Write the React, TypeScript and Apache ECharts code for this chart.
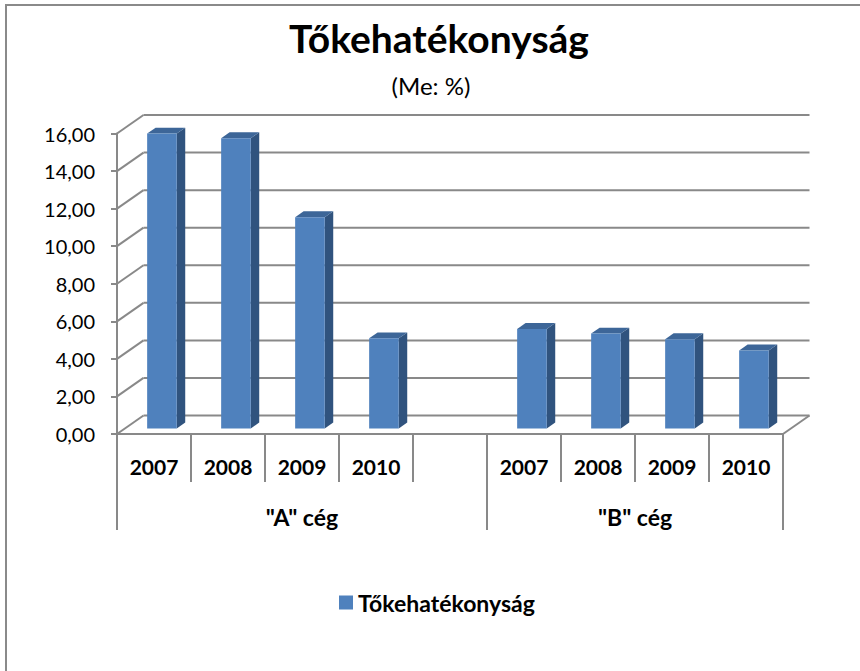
import React, { useEffect, useRef } from 'react';
import * as echarts from 'echarts';

// ---- data ----
const titleText = 'Tőkehatékonyság';
const subtitleText = '(Me: %)';
const seriesName = 'Tőkehatékonyság';
const groups = ['"A" cég', '"B" cég'];
const years = ['2007', '2008', '2009', '2010'];
const valuesA = [15.7, 15.45, 11.25, 4.8];
const valuesB = [5.3, 5.05, 4.75, 4.15];
const yTicks = [0, 2, 4, 6, 8, 10, 12, 14, 16];

// categories: A years, an empty slot, B years
const categories = [...years, '', ...years];
const barValues: (number | null)[] = [...valuesA, null, ...valuesB];
const groupBounds = [0, years.length + 1, categories.length];
const groupCenters = [
  (groupBounds[0] + groupBounds[1]) / 2,
  (groupBounds[1] + groupBounds[2]) / 2,
];

// ---- style ----
const FONT = 'Lato, "Open Sans", "DejaVu Sans", sans-serif';
const GRID_COLOR = '#898989';
const FRONT = '#4F81BD';
const SIDE = '#30537E';
const TOP = '#3D6698';
const DX = 26.5; // wall depth (x)
const DY = -18.5; // wall depth (y)
const F = 0.3; // bar front depth fraction
const BD = 0.32; // bar depth fraction
const BAR_W = 0.4; // fraction of slot

const fmt = (v: number) => v.toFixed(2).replace('.', ',');

export default function App() {
  const ref = useRef<HTMLDivElement>(null);

  useEffect(() => {
    if (!ref.current) return;
    const chart = echarts.init(ref.current, null, { renderer: 'svg' });
    const lineStyle = { stroke: GRID_COLOR, lineWidth: 2, fill: 'none' };

    const option: any = {
      animation: false,
      backgroundColor: '#fff',
      graphic: [
        {
          type: 'rect',
          z: 0,
          shape: { x: 6, y: 5, width: 900, height: 700 },
          style: { fill: 'none', stroke: '#8a8a8a', lineWidth: 2 },
        },
        {
          type: 'text',
          x: 439,
          y: 38,
          style: {
            text: titleText,
            font: `bold 39px ${FONT}`,
            fill: '#000',
            textAlign: 'center',
            align: 'center',
            textVerticalAlign: 'middle',
            verticalAlign: 'middle',
          },
        },
        {
          type: 'text',
          x: 431,
          y: 85,
          style: {
            text: subtitleText,
            font: `normal 24px ${FONT}`,
            fill: '#000',
            textAlign: 'center',
            align: 'center',
            textVerticalAlign: 'middle',
            verticalAlign: 'middle',
          },
        },
      ],
      legend: {
        data: [seriesName],
        left: 334,
        top: 586,
        icon: 'rect',
        itemWidth: 14,
        itemHeight: 14,
        textStyle: { fontFamily: FONT, fontWeight: 'bold', fontSize: 23, color: '#000' },
      },
      grid: {
        left: 117,
        top: 133.5,
        width: 666,
        height: 300.5,
        outerBoundsMode: 'none',
        containLabel: false,
      },
      xAxis: [
        {
          type: 'category',
          data: categories,
          gridIndex: 0,
          axisLine: { show: true, lineStyle: { color: GRID_COLOR, width: 2 } },
          axisTick: { show: true, interval: 0, length: 48, lineStyle: { color: GRID_COLOR, width: 2 } },
          axisLabel: {
            interval: 0,
            margin: 22,
            fontFamily: FONT,
            fontWeight: 'bold',
            fontSize: 21,
            lineHeight: 21,
            color: '#000',
          },
          splitLine: { show: false },
        },
        {
          type: 'value',
          gridIndex: 0,
          min: 0,
          max: categories.length,
          position: 'bottom',
          offset: 48,
          axisLine: { show: false },
          axisTick: {
            show: true,
            length: 48,
            customValues: groupBounds,
            lineStyle: { color: GRID_COLOR, width: 2 },
          },
          axisLabel: {
            show: true,
            margin: 23,
            customValues: groupCenters,
            formatter: (v: number) => {
              const idx = groupCenters.findIndex((c) => Math.abs(c - v) < 1e-6);
              return idx >= 0 ? groups[idx] : '';
            },
            fontFamily: FONT,
            fontWeight: 'bold',
            fontSize: 23,
            lineHeight: 23,
            color: '#000',
          },
          splitLine: { show: false },
        },
      ],
      yAxis: {
        type: 'value',
        min: 0,
        max: 16,
        interval: 2,
        axisLine: { show: true, lineStyle: { color: GRID_COLOR, width: 2 } },
        axisTick: { show: true, length: 6, lineStyle: { color: GRID_COLOR, width: 2 } },
        axisLabel: {
          margin: 22,
          formatter: fmt,
          fontFamily: FONT,
          fontSize: 20,
          color: '#000',
        },
        splitLine: { show: false },
      },
      series: [
        {
          type: 'custom',
          name: 'walls',
          silent: true,
          xAxisIndex: 0,
          yAxisIndex: 0,
          data: yTicks.map((v) => [0, v]),
          encode: { x: 0, y: 1 },
          renderItem: (params: any, api: any) => {
            const cs = params.coordSys;
            const v = api.value(1);
            const y = api.coord([0, v])[1];
            const x0 = cs.x;
            const x1 = cs.x + cs.width;
            const children: any[] = [
              { type: 'line', shape: { x1: x0, y1: y, x2: x0 + DX, y2: y + DY }, style: lineStyle },
              { type: 'line', shape: { x1: x0 + DX, y1: y + DY, x2: x1 + DX, y2: y + DY }, style: lineStyle },
            ];
            if (v === 0) {
              children.push({
                type: 'line',
                shape: { x1: x1, y1: y, x2: x1 + DX, y2: y + DY },
                style: lineStyle,
              });
            }
            return { type: 'group', children };
          },
        },
        {
          type: 'custom',
          name: seriesName,
          xAxisIndex: 0,
          yAxisIndex: 0,
          itemStyle: { color: FRONT },
          data: barValues
            .map((v, i) => [i, v])
            .filter((d) => d[1] !== null),
          encode: { x: 0, y: 1 },
          renderItem: (params: any, api: any) => {
            const i = api.value(0);
            const v = api.value(1);
            const top = api.coord([i, v]);
            const base = api.coord([i, 0]);
            const slot = api.size([1, 0])[0];
            const w = slot * BAR_W;
            const ox = DX * F;
            const oy = DY * F;
            const dx = DX * BD;
            const dy = DY * BD;
            const xl = top[0] - w / 2 + ox;
            const xr = xl + w;
            const yt = top[1] + oy;
            const yb = base[1] + oy;
            return {
              type: 'group',
              children: [
                {
                  type: 'polygon',
                  shape: { points: [[xr, yt], [xr + dx, yt + dy], [xr + dx, yb + dy], [xr, yb]] },
                  style: { fill: SIDE },
                },
                {
                  type: 'polygon',
                  shape: { points: [[xl, yt], [xl + dx, yt + dy], [xr + dx, yt + dy], [xr, yt]] },
                  style: { fill: TOP },
                },
                {
                  type: 'rect',
                  shape: { x: xl, y: yt, width: w, height: yb - yt },
                  style: { fill: FRONT },
                },
              ],
            };
          },
        },
      ],
    };

    chart.setOption(option);
    return () => {
      chart.dispose();
    };
  }, []);

  return (
    <div
      ref={ref}
      style={{ position: 'fixed', left: 0, top: 0, width: 860, height: 671, background: '#fff' }}
    />
  );
}
